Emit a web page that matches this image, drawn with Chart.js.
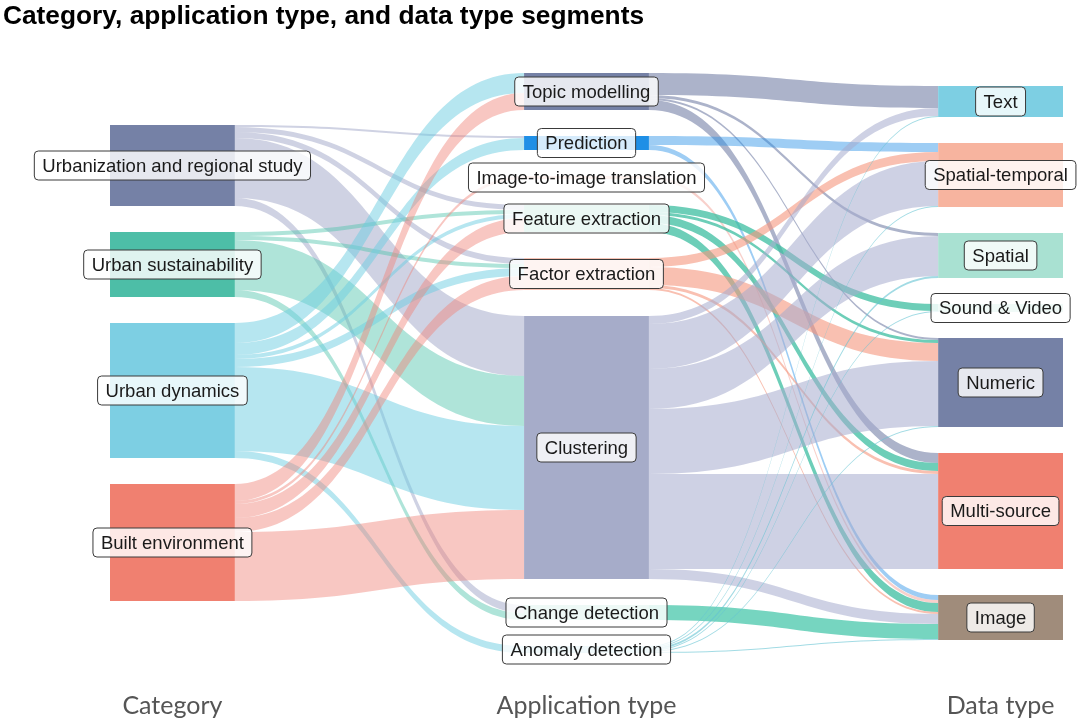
<!DOCTYPE html>
<html>
<head>
<meta charset="utf-8">
<title>Category, application type, and data type segments</title>
<script src="https://cdn.jsdelivr.net/npm/chart.js@4.4.1/dist/chart.umd.min.js"></script>
<style>
  html, body { margin: 0; padding: 0; background: #fff; }
  #wrap { width: 1080px; height: 723px; }
</style>
</head>
<body>
<div id="wrap"><canvas id="sankey" width="1080" height="723"></canvas></div>
<script>
// Nodes of the three columns (top to bottom)
const categories = ["Urbanization and regional study", "Urban sustainability", "Urban dynamics", "Built environment"];
const applicationTypes = ["Topic modelling", "Prediction", "Image-to-image translation", "Feature extraction",
  "Factor extraction", "Clustering", "Change detection", "Anomaly detection"];
const dataTypes = ["Text", "Spatial-temporal", "Spatial", "Sound & Video", "Numeric", "Multi-source", "Image"];
const columnTitles = ["Category", "Application type", "Data type"];

// Flows category -> application type (rows = categories, cols = application types)
const categoryToApplication = [
  [0, 2, 0, 5, 6, 60, 8, 0],
  [0, 0, 0, 4, 4, 50, 7, 0],
  [20, 12, 0, 4, 8, 84, 0, 7],
  [17, 0, 3, 14, 14, 69, 0, 0]
];

// Flows application type -> data type (rows = application types, cols = data types)
const applicationToData = [
  [22, 0, 3, 0, 2, 10, 0],
  [0, 9, 0, 0, 0, 0, 5],
  [0, 0, 0, 0, 0, 0, 3],
  [0, 0, 0, 7, 3, 8, 9],
  [0, 9, 0, 0, 18, 3, 2],
  [8, 45, 40, 0, 65, 95, 10],
  [0, 0, 0, 0, 0, 0, 15],
  [1, 1, 2, 1, 1, 0, 1]
];

// colours (node fill, link fill) per column
const nodeColors = [
  ["#7581a6", "#4dbea7", "#7dcfe3", "#f08070"],
  ["#7581a6", "#1f8fe6", "#f6bfb2", "#8fd8c4", "#f7c3b5", "#a6acc9", "#9fdccc", "#a9deea"],
  ["#7dcfe3", "#f7b49f", "#a9e1d2", "#a9e1d2", "#7581a6", "#f08070", "#a08c7b"]
];
const linkColors = [
  ["rgba(160,166,200,0.5)", "rgba(77,196,170,0.45)", "rgba(110,205,225,0.5)", "rgba(240,130,120,0.45)"],
  ["rgba(117,128,166,0.6)", "rgba(40,145,230,0.45)", "rgba(240,150,140,0.45)", "rgba(60,190,160,0.75)",
   "rgba(245,150,125,0.6)", "rgba(165,172,205,0.55)", "rgba(60,195,165,0.7)", "rgba(100,195,210,0.6)"]
];

const columns = [categories, applicationTypes, dataTypes];
const flows = [categoryToApplication, applicationToData];
const NODE_GAP = 26;     // vertical gap between nodes, in flow units
const NODE_WIDTH = 0.131; // node width as share of the x range

const sum = arr => arr.reduce((a, b) => a + b, 0);

// Sankey layout in data units (x: 0..1, y: flow units)
function buildLayout() {
  const values = columns.map((names, c) => names.map((_, i) => {
    const out = c < flows.length ? sum(flows[c][i]) : 0;
    const inn = c > 0 ? sum(flows[c - 1].map(r => r[i])) : 0;
    return Math.max(out, inn);
  }));
  const heights = values.map(v => sum(v) + (v.length - 1) * NODE_GAP);
  const maxH = Math.max(...heights);
  const nodes = values.map((vals, c) => {
    let y0 = (maxH - heights[c]) / 2;
    const x0 = c * (1 - NODE_WIDTH) / (columns.length - 1);
    return vals.map((v, i) => {
      const n = { name: columns[c][i], col: c, x0: x0, x1: x0 + NODE_WIDTH, y0: y0, y1: y0 + v,
        outOff: y0, inOff: y0, color: nodeColors[c][i] };
      y0 += v + NODE_GAP;
      return n;
    });
  });
  const links = [];
  flows.forEach((matrix, c) => {
    matrix.forEach((row, i) => row.forEach((v, j) => {
      if (v > 0) links.push({ c, i, j, v, color: linkColors[c][i] });
    }));
  });
  // outgoing offsets ordered by target position, incoming by source position
  flows.forEach((matrix, c) => {
    nodes[c].forEach((src, i) => {
      matrix[i].forEach((v, j) => {
        if (v <= 0) return;
        const l = links.find(k => k.c === c && k.i === i && k.j === j);
        l.sy = src.outOff; src.outOff += v;
      });
    });
    nodes[c + 1].forEach((tgt, j) => {
      matrix.forEach((row, i) => {
        if (row[j] <= 0) return;
        const l = links.find(k => k.c === c && k.i === i && k.j === j);
        l.ty = tgt.inOff; tgt.inOff += row[j];
      });
    });
  });
  return { nodes, links, maxH };
}

const layout = buildLayout();

function roundRect(ctx, x, y, w, h, r) {
  ctx.beginPath();
  ctx.moveTo(x + r, y);
  ctx.lineTo(x + w - r, y);
  ctx.quadraticCurveTo(x + w, y, x + w, y + r);
  ctx.lineTo(x + w, y + h - r);
  ctx.quadraticCurveTo(x + w, y + h, x + w - r, y + h);
  ctx.lineTo(x + r, y + h);
  ctx.quadraticCurveTo(x, y + h, x, y + h - r);
  ctx.lineTo(x, y + r);
  ctx.quadraticCurveTo(x, y, x + r, y);
  ctx.closePath();
}

const sankeyPlugin = {
  id: "sankey",
  afterDatasetsDraw(chart) {
    const { ctx, scales: { x, y } } = chart;
    const { nodes, links } = layout;
    ctx.save();

    // links
    links.forEach(l => {
      const src = nodes[l.c][l.i], tgt = nodes[l.c + 1][l.j];
      const x0 = x.getPixelForValue(src.x1), x1 = x.getPixelForValue(tgt.x0);
      const xm = (x0 + x1) / 2;
      const y0t = y.getPixelForValue(l.sy), y0b = y.getPixelForValue(l.sy + l.v);
      const y1t = y.getPixelForValue(l.ty), y1b = y.getPixelForValue(l.ty + l.v);
      ctx.beginPath();
      ctx.moveTo(x0, y0t);
      ctx.bezierCurveTo(xm, y0t, xm, y1t, x1, y1t);
      ctx.lineTo(x1, y1b);
      ctx.bezierCurveTo(xm, y1b, xm, y0b, x0, y0b);
      ctx.closePath();
      ctx.fillStyle = l.color;
      ctx.fill();
    });

    // nodes
    nodes.flat().forEach(n => {
      const px0 = x.getPixelForValue(n.x0), px1 = x.getPixelForValue(n.x1);
      const py0 = y.getPixelForValue(n.y0), py1 = y.getPixelForValue(n.y1);
      ctx.fillStyle = n.color;
      ctx.fillRect(px0, py0, px1 - px0, Math.max(py1 - py0, 1));
    });

    // node labels
    ctx.font = "18.5px 'Liberation Sans', Arial, sans-serif";
    ctx.textAlign = "center";
    ctx.textBaseline = "middle";
    nodes.flat().forEach(n => {
      const cx = x.getPixelForValue((n.x0 + n.x1) / 2);
      const cy = y.getPixelForValue((n.y0 + n.y1) / 2);
      const w = ctx.measureText(n.name).width + 16;
      const h = 29;
      roundRect(ctx, cx - w / 2, cy - h / 2, w, h, 4);
      ctx.fillStyle = "rgba(255,255,255,0.82)";
      ctx.fill();
      ctx.strokeStyle = "#3a3a3a";
      ctx.lineWidth = 1;
      ctx.stroke();
      ctx.fillStyle = "#1a1a1a";
      ctx.fillText(n.name, cx, cy + 1);
    });

    // column titles
    ctx.font = "25px Lato, 'Open Sans', sans-serif";
    ctx.fillStyle = "#555";
    ctx.textBaseline = "alphabetic";
    nodes.forEach((col, c) => {
      const cx = x.getPixelForValue((col[0].x0 + col[0].x1) / 2);
      ctx.fillText(columnTitles[c], cx, 714);
    });

    // chart title
    ctx.font = "bold 26.3px 'Liberation Sans', Arial, sans-serif";
    ctx.fillStyle = "#000";
    ctx.textAlign = "left";
    ctx.fillText("Category, application type, and data type segments", 3, 24);
    ctx.restore();
  }
};

new Chart(document.getElementById("sankey"), {
  type: "scatter",
  data: { datasets: [{ data: [] }] },
  options: {
    responsive: false,
    animation: false,
    layout: { padding: { left: 110, right: 17, top: 73, bottom: 70 } },
    scales: {
      x: { type: "linear", min: 0, max: 1, display: false },
      y: { type: "linear", min: 0, max: layout.maxH, reverse: true, display: false }
    },
    plugins: { legend: { display: false }, tooltip: { enabled: false } }
  },
  plugins: [sankeyPlugin]
});
</script>
</body>
</html>
